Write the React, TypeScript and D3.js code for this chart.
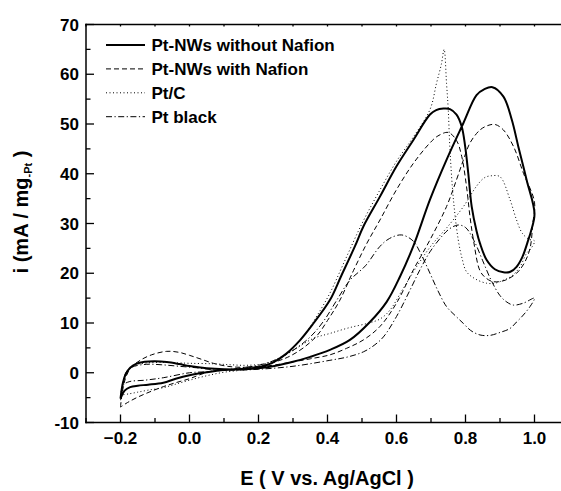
import React, { useEffect, useRef } from 'react';
import * as d3 from 'd3';

// Cyclic voltammograms: forward scan (-0.2 -> 1.0 V) then backward scan (1.0 -> -0.2 V)
const nwNoNafionFwd: [number, number][] = [
  [-0.2, -5.2], [-0.193, -2.0], [-0.185, -0.3], [-0.172, 1.0], [-0.155, 1.8], [-0.13, 2.2], [-0.1, 2.3],
  [-0.066, 2.15], [-0.03, 1.75], [0.0, 1.35], [0.05, 0.9], [0.1, 0.7], [0.15, 0.7], [0.2, 0.9], [0.25, 1.4],
  [0.3, 2.2], [0.35, 3.2], [0.407, 4.6], [0.465, 6.6], [0.523, 10.2], [0.572, 14.3], [0.61, 19.3],
  [0.649, 25.5], [0.697, 34.8], [0.745, 42.8], [0.794, 50.2], [0.832, 55.8], [0.855, 57.0], [0.878, 57.4],
  [0.91, 55.5], [0.934, 50.9], [0.953, 45.5], [0.977, 38.8], [1.0, 32]
];
const nwNoNafionBwd: [number, number][] = [
  [1.0, 32], [0.99, 28.5], [0.982, 26.7], [0.965, 23.3], [0.948, 21.3], [0.93, 20.3], [0.91, 20.2],
  [0.885, 20.8], [0.861, 22.7], [0.842, 26.0], [0.832, 28.5], [0.818, 33.4], [0.808, 40.1], [0.799, 45.5],
  [0.789, 49.5], [0.774, 51.9], [0.755, 53.0], [0.736, 53.1], [0.715, 52.8], [0.697, 51.9], [0.649, 46.8],
  [0.6, 41.5], [0.552, 35.4], [0.504, 29.4], [0.48, 25.5], [0.44, 19.5], [0.407, 14.6], [0.359, 9.9],
  [0.32, 6.5], [0.28, 3.8], [0.24, 2.0], [0.2, 1.1], [0.15, 0.7], [0.1, 0.55], [0.05, 0.1], [0.0, -0.5],
  [-0.04, -1.2], [-0.076, -2.0], [-0.12, -2.4], [-0.15, -2.6], [-0.172, -2.9], [-0.188, -3.6], [-0.2, -5.2]
];

const nwNafionFwd: [number, number][] = [
  [-0.2, -6.9], [-0.195, -4], [-0.185, -1.0], [-0.17, 1.0], [-0.143, 2.5], [-0.11, 3.6], [-0.066, 4.3],
  [-0.03, 4.1], [0.0, 3.5], [0.035, 2.7], [0.069, 1.9], [0.11, 1.3], [0.146, 1.1], [0.2, 1.2], [0.25, 1.6],
  [0.3, 2.2], [0.35, 2.8], [0.407, 3.6], [0.455, 4.9], [0.504, 6.6], [0.552, 9.3], [0.6, 14], [0.649, 20.7],
  [0.697, 26.7], [0.745, 33.4], [0.774, 38.8], [0.794, 42.8], [0.813, 46.2], [0.842, 48.8], [0.865, 49.7],
  [0.886, 49.9], [0.91, 48.8], [0.939, 45.5], [0.968, 40.1], [1.0, 34.3]
];
const nwNafionBwd: [number, number][] = [
  [1.0, 34.3], [0.995, 30], [0.987, 25], [0.97, 22], [0.948, 20], [0.915, 18.6], [0.881, 18.3], [0.86, 19],
  [0.842, 20.5], [0.823, 26.7], [0.813, 31.4], [0.803, 37.4], [0.789, 43.5], [0.774, 46.7], [0.75, 48.3],
  [0.72, 47.6], [0.697, 46.2], [0.649, 42.1], [0.6, 36.8], [0.552, 30.7], [0.514, 26], [0.475, 20.5],
  [0.436, 14.6], [0.4, 10.5], [0.37, 7.5], [0.33, 5.0], [0.29, 3.3], [0.262, 2.5], [0.22, 1.6], [0.17, 1.0],
  [0.12, 0.7], [0.074, 0.5], [0.03, -0.4], [0.0, -1.2], [-0.04, -2.0], [-0.076, -2.8], [-0.11, -3.7],
  [-0.15, -4.9], [-0.18, -6.0], [-0.2, -6.9]
];

const ptcFwd: [number, number][] = [
  [-0.2, -4.5], [-0.195, -2.5], [-0.185, -0.5], [-0.17, 1.0], [-0.15, 1.7], [-0.12, 2.0], [-0.08, 2.1],
  [-0.04, 2.0], [0.0, 1.9], [0.069, 1.8], [0.12, 1.6], [0.166, 1.5], [0.224, 1.9], [0.26, 3.0], [0.3, 4.5],
  [0.359, 6.9], [0.407, 7.9], [0.46, 9.0], [0.52, 10.0], [0.552, 10.8], [0.58, 12.5], [0.62, 17], [0.66, 21.5],
  [0.7, 25.5], [0.75, 29.5], [0.794, 33.4], [0.832, 37.5], [0.855, 39.2], [0.876, 39.6], [0.9, 39.4],
  [0.929, 34.8], [0.948, 30.7], [0.965, 28], [0.985, 26.8], [1.0, 26.5]
];
const ptcBwd: [number, number][] = [
  [1.0, 26.5], [0.99, 25], [0.977, 24.0], [0.958, 21.3], [0.935, 19.5], [0.91, 18.6], [0.885, 18.0],
  [0.861, 18.0], [0.83, 18.8], [0.803, 20.3], [0.79, 23], [0.779, 26.7], [0.765, 34.8], [0.755, 44.8],
  [0.75, 52.9], [0.745, 58.2], [0.738, 65.0], [0.73, 62], [0.716, 58.2], [0.697, 52.9], [0.65, 47.5],
  [0.6, 42.5], [0.55, 36.5], [0.5, 30], [0.45, 22.5], [0.407, 16], [0.37, 11.5], [0.34, 8.2], [0.3, 5.0],
  [0.26, 2.8], [0.2, 1.0], [0.15, 0.5], [0.1, 0.1], [0.05, -0.6], [0.0, -1.5], [-0.04, -2.3], [-0.076, -3.0],
  [-0.12, -3.5], [-0.15, -3.9], [-0.172, -4.2], [-0.2, -4.5]
];

const ptBlackFwd: [number, number][] = [
  [-0.2, -5.5], [-0.195, -3], [-0.19, -1.0], [-0.18, 0.5], [-0.16, 1.3], [-0.124, 1.7], [-0.08, 1.6],
  [-0.03, 1.3], [0.02, 1.0], [0.07, 0.6], [0.12, 0.5], [0.2, 0.7], [0.3, 1.3], [0.407, 2.5], [0.46, 3.2],
  [0.504, 4.2], [0.535, 5.5], [0.562, 7.2], [0.6, 11.3], [0.639, 16.6], [0.668, 20.7], [0.697, 24.3],
  [0.73, 27.3], [0.755, 29.0], [0.779, 29.7], [0.8, 29.2], [0.825, 26.5], [0.85, 22.5], [0.875, 18.5],
  [0.9, 15.5], [0.92, 14.2], [0.939, 13.6], [0.968, 14.0], [1.0, 15.0]
];
const ptBlackBwd: [number, number][] = [
  [1.0, 15.0], [0.987, 13.3], [0.965, 11.4], [0.948, 10.2], [0.929, 8.9], [0.9, 8.1], [0.87, 7.5],
  [0.842, 7.6], [0.815, 8.5], [0.794, 9.9], [0.77, 11.5], [0.745, 13.3], [0.72, 16.5], [0.697, 20.0],
  [0.67, 24], [0.648, 26.5], [0.615, 27.7], [0.58, 27.0], [0.552, 25.4], [0.51, 21.5], [0.465, 18.6],
  [0.427, 14.6], [0.39, 10.5], [0.35, 7.2], [0.3, 4.5], [0.25, 2.6], [0.2, 1.5], [0.15, 1.0], [0.1, 0.5],
  [0.05, 0.2], [0.0, 0.0], [-0.076, -1.0], [-0.13, -1.5], [-0.175, -1.8], [-0.192, -2.5], [-0.2, -5.5]
];

const seriesNames = ['Pt-NWs without Nafion', 'Pt-NWs with Nafion', 'Pt/C', 'Pt black'];
const xTicks = [-0.2, 0.0, 0.2, 0.4, 0.6, 0.8, 1.0];
const yTicks = [-10, 0, 10, 20, 30, 40, 50, 60, 70];

const FONT = 'Arial, "Liberation Sans", Helvetica, sans-serif';

const App = () => {
  const ref = useRef<SVGSVGElement>(null);

  useEffect(() => {
    const svg = d3.select(ref.current);
    svg.selectAll('*').remove();

    const x = d3.scaleLinear().domain([-0.3, 1.1]).range([86, 569]);
    const y = d3.scaleLinear().domain([-10, 70]).range([422.5, 24.5]);

    const series = [
      { name: seriesNames[0], pts: nwNoNafionFwd.concat(nwNoNafionBwd.slice(1)), width: 2, dash: null },
      { name: seriesNames[1], pts: nwNafionFwd.concat(nwNafionBwd.slice(1)), width: 1, dash: '5,3' },
      { name: seriesNames[2], pts: ptcFwd.concat(ptcBwd.slice(1)), width: 1, dash: '1,2.5' },
      { name: seriesNames[3], pts: ptBlackFwd.concat(ptBlackBwd.slice(1)), width: 1, dash: '6,2.5,1.2,2.5' }
    ];

    const line = d3.line<[number, number]>()
      .x(d => x(d[0]))
      .y(d => y(d[1]))
      .curve(d3.curveCatmullRom.alpha(0.5));

    series.forEach(s => {
      svg.append('path')
        .attr('d', line(s.pts))
        .attr('fill', 'none')
        .attr('stroke', '#000')
        .attr('stroke-width', s.width)
        .attr('stroke-dasharray', s.dash)
        .attr('stroke-linejoin', 'round');
    });

    // frame: the right edge (x = 1.1) lies outside the picture
    const [x0, x1] = x.range();
    const [yb, yt] = y.range();
    const frame = [
      [x0, yt, x0, yb],
      [x0, yb, x1, yb],
      [x0, yt, x1, yt]
    ];
    frame.forEach(f => {
      svg.append('line')
        .attr('x1', f[0]).attr('y1', f[1]).attr('x2', f[2]).attr('y2', f[3])
        .attr('stroke', '#000').attr('stroke-width', 1.5).attr('stroke-linecap', 'square');
    });

    // ticks: bottom and top (inward)
    d3.range(-0.3, 1.1001, 0.1).forEach(v => {
      const major = Math.abs(Math.round(v * 10) % 2) === 0;
      svg.append('line')
        .attr('x1', x(v)).attr('x2', x(v))
        .attr('y1', yb).attr('y2', yb - (major ? 8 : 4.5))
        .attr('stroke', '#000').attr('stroke-width', 1.3);
      svg.append('line')
        .attr('x1', x(v)).attr('x2', x(v))
        .attr('y1', yt).attr('y2', yt + 2)
        .attr('stroke', '#000').attr('stroke-width', 1.3);
    });
    d3.range(-10, 70.001, 5).forEach(v => {
      const major = v % 10 === 0;
      svg.append('line')
        .attr('x1', x0).attr('x2', x0 + (major ? 8 : 4.5))
        .attr('y1', y(v)).attr('y2', y(v))
        .attr('stroke', '#000').attr('stroke-width', 1.3);
    });

    svg.selectAll('.xt').data(xTicks).enter().append('text')
      .attr('x', d => x(d)).attr('y', 444)
      .attr('text-anchor', 'middle')
      .style('font', `bold 17px ${FONT}`)
      .text(d => d3.format('.1f')(d));

    svg.selectAll('.yt').data(yTicks).enter().append('text')
      .attr('x', 79).attr('y', d => y(d)).attr('dy', '0.36em')
      .attr('text-anchor', 'end')
      .style('font', `bold 17px ${FONT}`)
      .text(d => String(d));

    svg.append('text')
      .attr('x', 327).attr('y', 485)
      .attr('text-anchor', 'middle')
      .style('font', `bold 20px ${FONT}`)
      .text('E ( V vs. Ag/AgCl )');

    const yl = svg.append('text')
      .attr('transform', 'translate(28,212) rotate(-90)')
      .attr('text-anchor', 'middle')
      .style('font', `bold 20px ${FONT}`);
    yl.append('tspan').text('i (mA / mg');
    yl.append('tspan').attr('dy', 4).style('font-size', '11px').text('-Pt');
    yl.append('tspan').attr('dy', -4).text(' )');

    // legend
    series.forEach((s, i) => {
      const ly = 45 + i * 23.9;
      svg.append('line')
        .attr('x1', 106).attr('x2', 145)
        .attr('y1', ly).attr('y2', ly)
        .attr('stroke', '#000')
        .attr('stroke-width', s.width)
        .attr('stroke-dasharray', s.dash);
      svg.append('text')
        .attr('x', 151.5).attr('y', ly + 6)
        .style('font', `bold 17px ${FONT}`)
        .text(s.name);
    });
  }, []);

  return (
    <svg
      ref={ref}
      width={561}
      height={491}
      style={{ position: 'absolute', left: 0, top: 0, background: '#fff' }}
    />
  );
};

export default App;
